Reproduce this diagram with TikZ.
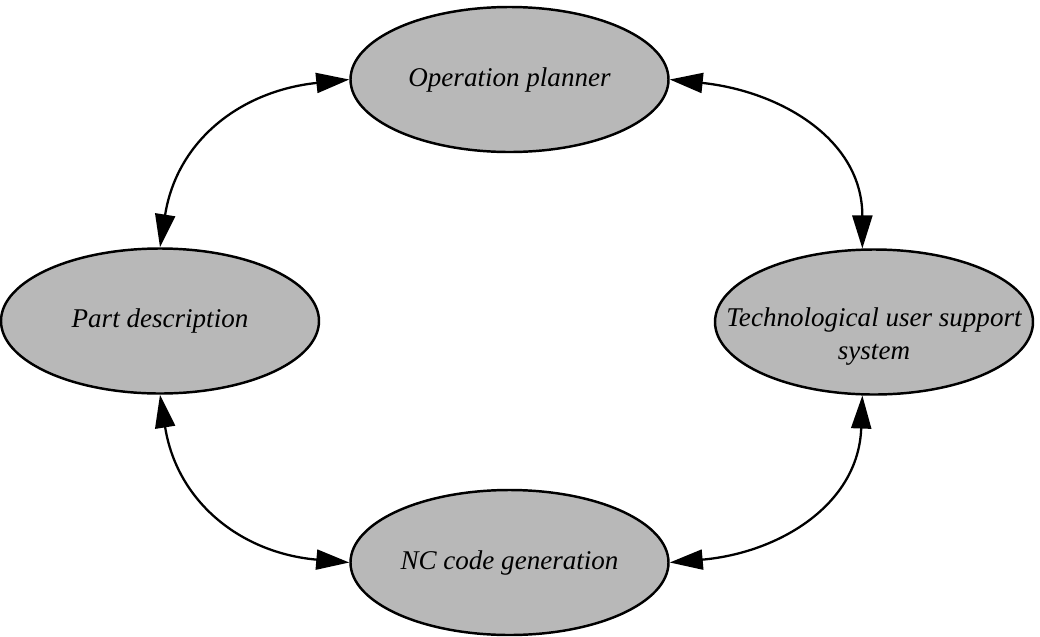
\documentclass[tikz,border=0pt]{standalone}
\usepackage{fontspec}
\setmainfont{Liberation Serif}
\usetikzlibrary{shapes.geometric,arrows.meta}
\tikzset{
  unitnode/.style={ellipse, draw, line width=1.4pt, fill=black!28, minimum width=6.36cm, minimum height=2.9cm, inner sep=0pt},
  unitlabel/.style={font=\itshape\fontsize{15.4}{18.8}\selectfont, align=center, inner sep=0pt},
  linkarrow/.style={{Triangle[length=6.6mm,width=4mm]}-{Triangle[length=6.6mm,width=4mm]}, line width=1.3pt}
}
\begin{document}
\begin{tikzpicture}
  \useasboundingbox (0,0) rectangle (20.8,-12.72);
  % the four modules
  \node[unitnode] (op) at (10.19,-1.59) {};
  \node[unitnode] (pd) at (3.20,-6.42) {};
  \node[unitnode] (tus) at (17.48,-6.44) {};
  \node[unitnode] (nc) at (10.19,-11.25) {};
  \node[unitlabel] (op-txt) at (op) {Operation planner};
  \node[unitlabel] (pd-txt) at (pd) {Part description};
  \node[unitlabel, yshift=-0.3cm] (tus-txt) at (tus) {Technological user support\\system};
  \node[unitlabel] (nc-txt) at (nc) {NC code generation};
  % two-way links round the ring
  \draw[linkarrow] (op.west) to[out=186, in=81, looseness=1.1] (pd.north);
  \draw[linkarrow] (op.east) to[out=-6, in=90, looseness=1.1] (tus.99);
  \draw[linkarrow] (pd.south) to[out=-81, in=175, looseness=1.1] (nc.west);
  \draw[linkarrow] (tus.261) to[out=-92, in=5, looseness=1.1] (nc.east);
\end{tikzpicture}
\end{document}
